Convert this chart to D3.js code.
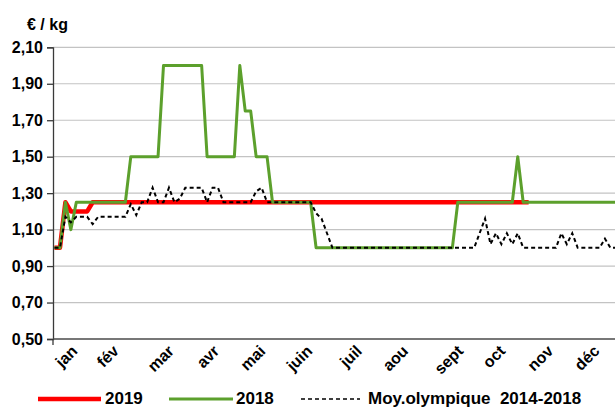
<!DOCTYPE html>
<html>
<head>
<meta charset="utf-8">
<script src="https://cdn.jsdelivr.net/npm/d3@7"></script>
<style>
	body { margin: 0; background: #fff; }
	svg { display: block; font-family: "Liberation Sans", Arial, sans-serif; }
</style>
</head>
<body>
<div id="chart"></div>
<script>
// Month labels and where they sit (in data point units)
var months = ["jan", "fév", "mar", "avr", "mai", "juin", "juil", "aou", "sept", "oct", "nov", "déc"];
var monthPos = [4.3, 11.9, 22.0, 30.3, 38.8, 47.4, 56.5, 65.0, 75.1, 82.8, 91.6, 100.1];

// y axis ticks
var yTicks = [0.5, 0.7, 0.9, 1.1, 1.3, 1.5, 1.7, 1.9, 2.1];

// series names (legend)
var seriesNames = ["2019", "2018", "Moy.olympique  2014-2018"];

// 2019 prices (€/kg), two points a week, stops in october
var prix2019 = [1.00, 1.00, 1.25, 1.20, 1.20, 1.20, 1.20, 1.25, 1.25, 1.25,
	1.25, 1.25, 1.25, 1.25, 1.25, 1.25, 1.25, 1.25, 1.25, 1.25,
	1.25, 1.25, 1.25, 1.25, 1.25, 1.25, 1.25, 1.25, 1.25, 1.25,
	1.25, 1.25, 1.25, 1.25, 1.25, 1.25, 1.25, 1.25, 1.25, 1.25,
	1.25, 1.25, 1.25, 1.25, 1.25, 1.25, 1.25, 1.25, 1.25, 1.25,
	1.25, 1.25, 1.25, 1.25, 1.25, 1.25, 1.25, 1.25, 1.25, 1.25,
	1.25, 1.25, 1.25, 1.25, 1.25, 1.25, 1.25, 1.25, 1.25, 1.25,
	1.25, 1.25, 1.25, 1.25, 1.25, 1.25, 1.25, 1.25, 1.25, 1.25,
	1.25, 1.25, 1.25, 1.25, 1.25, 1.25, 1.25, 1.25];

// 2018 prices
var prix2018 = [1.00, 1.00, 1.25, 1.10, 1.25, 1.25, 1.25, 1.25, 1.25, 1.25,
	1.25, 1.25, 1.25, 1.25, 1.50, 1.50, 1.50, 1.50, 1.50, 1.50,
	2.00, 2.00, 2.00, 2.00, 2.00, 2.00, 2.00, 2.00, 1.50, 1.50,
	1.50, 1.50, 1.50, 1.50, 2.00, 1.75, 1.75, 1.50, 1.50, 1.50,
	1.25, 1.25, 1.25, 1.25, 1.25, 1.25, 1.25, 1.25, 1.00, 1.00,
	1.00, 1.00, 1.00, 1.00, 1.00, 1.00, 1.00, 1.00, 1.00, 1.00,
	1.00, 1.00, 1.00, 1.00, 1.00, 1.00, 1.00, 1.00, 1.00, 1.00,
	1.00, 1.00, 1.00, 1.00, 1.25, 1.25, 1.25, 1.25, 1.25, 1.25,
	1.25, 1.25, 1.25, 1.25, 1.25, 1.50, 1.25, 1.25, 1.25, 1.25,
	1.25, 1.25, 1.25, 1.25, 1.25, 1.25, 1.25, 1.25, 1.25, 1.25,
	1.25, 1.25, 1.25, 1.25];

// olympic average 2014-2018
var moyOlympique = [1.00, 1.00, 1.17, 1.14, 1.17, 1.17, 1.17, 1.13, 1.17, 1.17,
	1.17, 1.17, 1.17, 1.17, 1.24, 1.18, 1.25, 1.25, 1.33, 1.25,
	1.25, 1.33, 1.25, 1.27, 1.33, 1.33, 1.33, 1.33, 1.25, 1.33,
	1.33, 1.25, 1.25, 1.25, 1.25, 1.25, 1.25, 1.31, 1.33, 1.25,
	1.25, 1.25, 1.25, 1.25, 1.25, 1.25, 1.25, 1.25, 1.19, 1.16,
	1.08, 1.00, 1.00, 1.00, 1.00, 1.00, 1.00, 1.00, 1.00, 1.00,
	1.00, 1.00, 1.00, 1.00, 1.00, 1.00, 1.00, 1.00, 1.00, 1.00,
	1.00, 1.00, 1.00, 1.00, 1.00, 1.00, 1.00, 1.00, 1.08, 1.16,
	1.02, 1.08, 1.02, 1.08, 1.02, 1.08, 1.00, 1.00, 1.00, 1.00,
	1.00, 1.00, 1.00, 1.08, 1.02, 1.08, 1.00, 1.00, 1.00, 1.00,
	1.00, 1.05, 1.00, 1.00];

var width = 615,
	height = 408;

var plotLeft = 53,
	plotRight = 615,
	plotTop = 47.3,
	plotBottom = 339;

var svg = d3.select("#chart")
	.append("svg")
	.attr("width", width)
	.attr("height", height);

var x = d3.scaleLinear()
	.domain([0, 103])
	.range([54.5, 615.85]);

var y = d3.scaleLinear()
	.domain([0.5, 2.1])
	.range([plotBottom, plotTop]);

var fmt = function(d) { return d3.format(".2f")(d).replace(".", ","); };

// grid lines
svg.append("g")
	.selectAll("line")
	.data(yTicks.slice(1))
	.enter().append("line")
	.attr("x1", plotLeft)
	.attr("x2", plotRight)
	.attr("y1", function(d) { return y(d); })
	.attr("y2", function(d) { return y(d); })
	.style("stroke", "#c3c3c3")
	.style("stroke-width", 1.2);

// y axis
var yAxis = svg.append("g")
	.attr("transform", "translate(" + plotLeft + ",0)")
	.call(d3.axisLeft(y).tickValues(yTicks).tickFormat(fmt).tickSize(6).tickPadding(4));

yAxis.select(".domain").style("stroke", "#3a3a3a").style("stroke-width", 1.3);
yAxis.selectAll(".tick line").style("stroke", "#3a3a3a").style("stroke-width", 1.3);
yAxis.selectAll("text")
	.style("font-size", "16px")
	.style("font-weight", "bold")
	.style("font-family", "Liberation Sans, Arial, sans-serif")
	.style("fill", "#000");

// x axis
var xAxis = svg.append("g")
	.attr("transform", "translate(0," + plotBottom + ")")
	.call(d3.axisBottom(x)
		.tickValues(monthPos)
		.tickFormat(function(d, i) { return months[i]; })
		.tickSize(0)
		.tickSizeOuter(0));

xAxis.select(".domain")
	.attr("d", "M" + plotLeft + ",0H" + plotRight)
	.style("stroke", "#4a4a4a")
	.style("stroke-width", 1.3);

xAxis.selectAll(".tick text")
	.attr("x", 0)
	.attr("y", 0)
	.attr("dy", 0)
	.attr("transform", "translate(0,13) rotate(-45)")
	.style("text-anchor", "end")
	.style("font-size", "16px")
	.style("font-weight", "bold")
	.style("font-family", "Liberation Sans, Arial, sans-serif")
	.style("fill", "#000");

// small tick at the start of the x axis
svg.append("line")
	.attr("x1", plotLeft).attr("x2", plotLeft)
	.attr("y1", plotBottom).attr("y2", plotBottom + 6)
	.style("stroke", "#3a3a3a")
	.style("stroke-width", 1.3);

// unit label
svg.append("text")
	.attr("x", 27)
	.attr("y", 30)
	.text("€ / kg")
	.style("font-size", "16px")
	.style("font-weight", "bold");

var line = d3.line()
	.x(function(d, i) { return x(i); })
	.y(function(d) { return y(d); });

// 2019 - red, drawn first
svg.append("path")
	.datum(prix2019)
	.attr("d", line)
	.style("fill", "none")
	.style("stroke", "#ff0000")
	.style("stroke-width", 4.5)
	.style("stroke-linejoin", "round");

// 2018 - green
svg.append("path")
	.datum(prix2018)
	.attr("d", line)
	.style("fill", "none")
	.style("stroke", "#5ca02c")
	.style("stroke-width", 3)
	.style("stroke-linejoin", "round");

// olympic average - black dashes
svg.append("path")
	.datum(moyOlympique)
	.attr("d", line)
	.style("fill", "none")
	.style("stroke", "#000")
	.style("stroke-width", 2)
	.style("stroke-dasharray", "4,3");

// legend (the reference cuts it at the bottom; kept just inside the frame)
var legendData = [
	{ name: seriesNames[0], x1: 38, x2: 101, tx: 105, color: "#ff0000", w: 4.5, dash: null },
	{ name: seriesNames[1], x1: 169, x2: 233, tx: 236, color: "#5ca02c", w: 3, dash: null },
	{ name: seriesNames[2], x1: 301, x2: 360, tx: 368, color: "#000", w: 1.5, dash: "4,3" }
];

var legend = svg.selectAll(".legend")
	.data(legendData)
	.enter().append("g")
	.attr("class", "legend");

legend.append("line")
	.attr("x1", function(d) { return d.x1; })
	.attr("x2", function(d) { return d.x2; })
	.attr("y1", 399)
	.attr("y2", 399)
	.style("stroke", function(d) { return d.color; })
	.style("stroke-width", function(d) { return d.w; })
	.style("stroke-dasharray", function(d) { return d.dash; });

legend.append("text")
	.attr("x", function(d) { return d.tx; })
	.attr("y", 404)
	.text(function(d) { return d.name; })
	.style("white-space", "pre")
	.style("font-size", "17px")
	.style("font-weight", "bold");
</script>
</body>
</html>
